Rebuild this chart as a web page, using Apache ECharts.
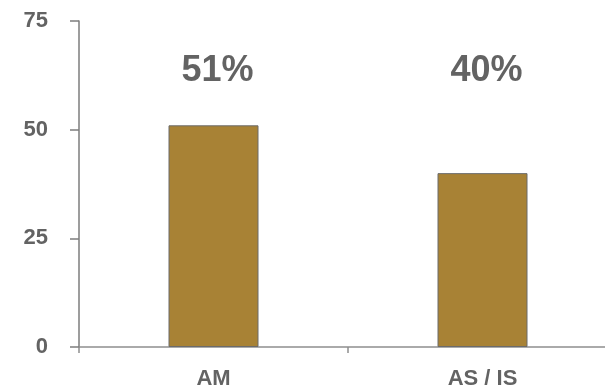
<!DOCTYPE html>
<html>
<head>
<meta charset="utf-8">
<style>
  html, body { margin: 0; padding: 0; background: #ffffff; }
  #chart { width: 605px; height: 391px; }
</style>
<script src="https://cdn.jsdelivr.net/npm/echarts@6/dist/echarts.min.js"></script>
</head>
<body>
<div id="chart"></div>
<script>
// Share by group (percent)
const categories = ['AM', 'AS / IS'];
const shares = [51, 40];
const yTicks = [0, 25, 50, 75];
// Height (in axis units) at which the percentage captions sit
const captionLevel = 63.5;

const textColor = '#636363';
const axisColor = '#8f8f8f';
const font = '"Liberation Sans", Arial, sans-serif';

const chart = echarts.init(document.getElementById('chart'), null, { renderer: 'canvas' });

chart.setOption({
  animation: false,
  // plot area runs a little past the right edge of the canvas
  grid: {
    left: 79, width: 538, top: 21, bottom: 44,
    containLabel: false, outerBoundsMode: 'none'
  },
  xAxis: {
    type: 'category',
    data: categories,
    axisLine: { show: true, lineStyle: { color: axisColor, width: 1.5 } },
    axisTick: { show: true, alignWithLabel: false, length: 6, lineStyle: { color: axisColor, width: 1.5 } },
    axisLabel: {
      color: textColor, fontFamily: font, fontWeight: 'bold', fontSize: 22, margin: 21
    },
    splitLine: { show: false }
  },
  yAxis: {
    type: 'value',
    min: yTicks[0],
    max: yTicks[yTicks.length - 1],
    interval: yTicks[1] - yTicks[0],
    axisLine: { show: true, lineStyle: { color: '#7d7d7d', width: 1.5 } },
    axisTick: { show: true, length: 9, lineStyle: { color: '#7d7d7d', width: 1.5 } },
    axisLabel: {
      color: textColor, fontFamily: font, fontWeight: 'bold', fontSize: 22, margin: 31
    },
    splitLine: { show: false }
  },
  series: [{
    type: 'bar',
    data: shares,
    barWidth: 90,
    itemStyle: { color: '#a88235', borderColor: '#6b6b6b', borderWidth: 1 },
    markPoint: {
      symbol: 'circle',
      symbolSize: 0,
      data: categories.map((c, i) => ({ coord: [c, captionLevel], value: shares[i] })),
      label: {
        show: true,
        position: 'inside',
        offset: [4, 0],
        formatter: p => p.value + '%',
        color: textColor,
        fontFamily: font,
        fontWeight: 'bold',
        fontSize: 36
      }
    }
  }]
});
</script>
</body>
</html>
